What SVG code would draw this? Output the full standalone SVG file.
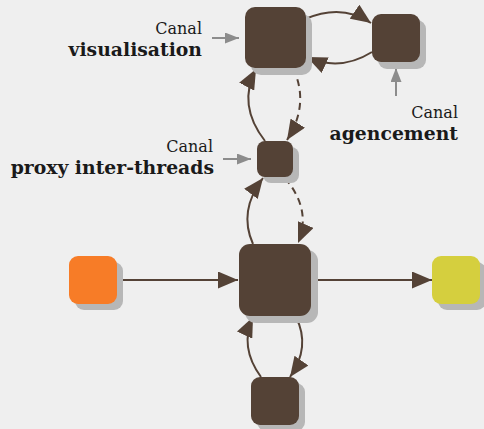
<svg xmlns="http://www.w3.org/2000/svg" width="484" height="429" viewBox="0 0 484 429">
<defs>
<marker id="ah" markerUnits="userSpaceOnUse" markerWidth="21" markerHeight="17" refX="20" refY="8.5" orient="auto"><path d="M0,0 L20,8.5 L0,17 z" fill="#544236"/></marker>
<marker id="gh" markerUnits="userSpaceOnUse" markerWidth="14" markerHeight="11" refX="14" refY="5.5" orient="auto"><path d="M0,0 L14,5.5 L0,11 z" fill="#8c8c8c"/></marker>
</defs>
<style>
.sh{fill:#b7b7b7}
.n{fill:#544236}
.c{fill:none;stroke:#544236;stroke-width:2;marker-end:url(#ah)}
.d{stroke-dasharray:7 5}
.g{fill:none;stroke:#8c8c8c;stroke-width:2;marker-end:url(#gh)}
.t{font-family:"DejaVu Serif","Liberation Serif",serif;fill:#1a1a1a;text-anchor:end}
.r{font-size:16px}
.b{font-size:18.8px;font-weight:bold}
</style>
<rect width="484" height="429" fill="#efefef"/>
<g id="connectors">
<path class="c" d="M117,280 L238,280"/>
<path class="c" d="M311,280 L432,280"/>
<path class="c" d="M305,19 Q342,3 371,23"/>
<path class="c" d="M372,52 Q340,72 307,57"/>
<path class="c" d="M265,141 Q237,105 256,69"/>
<path class="c d" d="M293,68 Q310,104 287,140"/>
<path class="c d" d="M285,178 Q312,210 298,243"/>
<path class="c" d="M253,244 Q238,211 263,178"/>
<path class="c" d="M296,317 Q311,347 290,377"/>
<path class="c" d="M261,377 Q239,347 253,317"/>
<path class="g" d="M212,38 L239,38"/>
<path class="g" d="M223,159 L251,159"/>
<path class="g" d="M396,96 L396,68"/>
</g>
<g id="visualisation">
<rect class="sh" x="251" y="14" width="61" height="61" rx="10"/>
<rect class="n" x="245" y="7" width="61" height="61" rx="10"/>
</g>
<g id="agencement">
<rect class="sh" x="378" y="20" width="48" height="49" rx="9"/>
<rect class="n" x="372" y="14" width="48" height="48" rx="9"/>
</g>
<g id="proxy">
<rect class="sh" x="263" y="147" width="36" height="36" rx="8"/>
<rect class="n" x="257" y="141" width="36" height="36" rx="8"/>
</g>
<g id="central">
<rect class="sh" x="245" y="250" width="73" height="73" rx="11"/>
<rect class="n" x="239" y="244" width="72" height="72" rx="11"/>
</g>
<g id="source">
<rect class="sh" x="75" y="262" width="48" height="48" rx="9"/>
<rect x="69" y="256" width="48" height="48" rx="9" fill="#f77c27"/>
</g>
<g id="sink">
<rect class="sh" x="438" y="262" width="48" height="48" rx="9"/>
<rect x="432" y="256" width="48" height="48" rx="9" fill="#d5cf3e"/>
</g>
<g id="bottom">
<rect class="sh" x="257" y="383" width="48" height="48" rx="9"/>
<rect class="n" x="251" y="377" width="48" height="48" rx="9"/>
</g>
<g id="labels">
<text class="t r" x="202" y="34">Canal</text>
<text class="t b" x="202" y="56">visualisation</text>
<text class="t r" x="213" y="152">Canal</text>
<text class="t b" x="214" y="174">proxy inter-threads</text>
<text class="t r" x="458" y="118">Canal</text>
<text class="t b" x="458" y="140">agencement</text>
</g>
</svg>
